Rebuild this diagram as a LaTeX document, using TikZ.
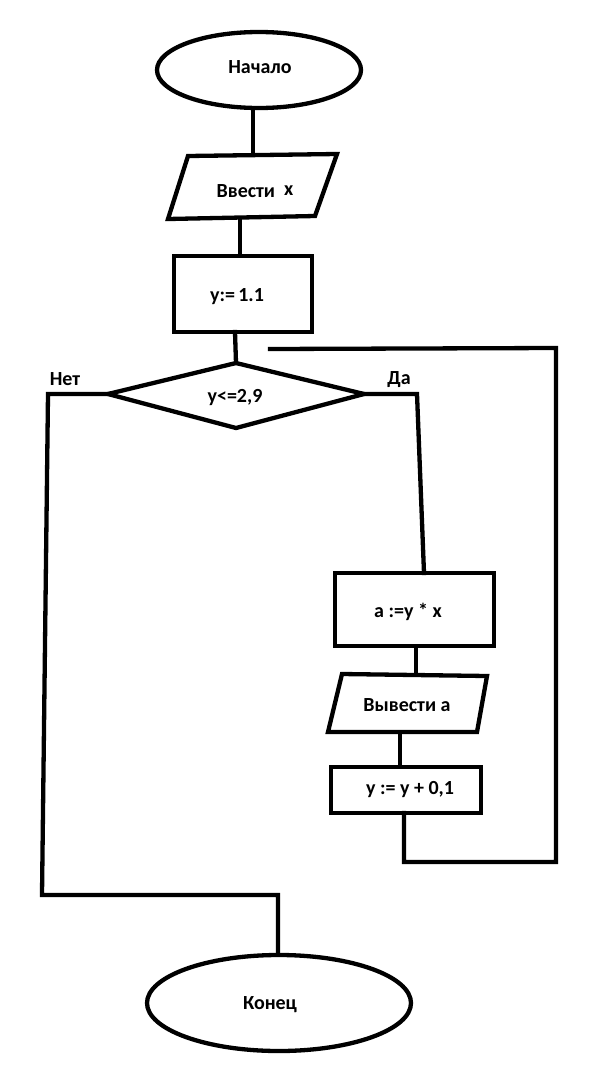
\documentclass[tikz,border=0pt]{standalone}
\usepackage{fontspec}
\setmainfont{Carlito}
\usetikzlibrary{shapes.geometric}
\begin{document}
\begin{tikzpicture}[x=1pt,y=-1pt,
  lw/.style={line width=4.3pt},
  shp/.style={draw=black,lw,line join=miter},
  conn/.style={draw=black,lw,line cap=rect,line join=miter},
  lbl/.style={font=\bfseries\fontsize{20}{24}\selectfont,inner sep=0pt},
  term/.style={ellipse,draw=black,lw,inner sep=0pt},
  proc/.style={rectangle,draw=black,lw,inner sep=0pt}]
\fill[white] (0,0) rectangle (592,1092);
\useasboundingbox (0,0) rectangle (592,1092);

% terminals
\node[term,minimum width=204pt,minimum height=76pt] (start) at (259,70) {};
\node[lbl] (tstart) at (260,67) {Начало};
\node[term,minimum width=264pt,minimum height=96pt] (finish) at (279,1003) {};
\node[lbl] (tfinish) at (270,1005) {Конец};

% input parallelogram
\coordinate (i1) at (188,156);
\coordinate (i2) at (337,154);
\coordinate (i3) at (315,216);
\coordinate (i4) at (168,219);
\draw[shp] (i1) -- (i2) -- (i3) -- (i4) -- cycle;
\node[lbl] (tinput) at (255,191) {Ввести\ \ \raisebox{2pt}{x}};

% init box
\node[proc,minimum width=138pt,minimum height=76pt] (init) at (243,294) {};
\node[lbl] (tinit) at (237,297) {y:=\,1.1};

% decision diamond
\coordinate (dt) at (236,363);
\coordinate (dl) at (108,394);
\coordinate (dr) at (364,394);
\coordinate (db) at (236,428);
\draw[shp] (dt) -- (dr) -- (db) -- (dl) -- cycle;
\node[lbl] (tcond) at (235,398) {y<=2,9};
\node[lbl] (tno) at (65,379) {Нет};
\node[lbl] (tyes) at (399,380) {Да};

% body
\node[proc,minimum width=159pt,minimum height=73pt] (mult) at (414.5,609.5) {};
\node[lbl] (tmult) at (408,612) {a :=y * x};

\coordinate (o1) at (342,674);
\coordinate (o2) at (487,676);
\coordinate (o3) at (477,732);
\coordinate (o4) at (328,732);
\draw[shp] (o1) -- (o2) -- (o3) -- (o4) -- cycle;
\node[lbl] (tout) at (407,705) {Вывести a};

\node[proc,minimum width=150pt,minimum height=46pt] (upd) at (406,790) {};
\node[lbl] (tupd) at (410,790) {y := y + 0,1};

% connectors
\coordinate (c1) at (253,155);
\draw[conn] (c1 |- start.south) -- (c1);
\coordinate (c2) at (240,218);
\draw[conn] (c2) -- (c2 |- init.north);
\coordinate (c3) at (235,332);
\draw[conn] (c3) -- (dt);

\coordinate (n1) at (48,394);
\coordinate (n2) at (42,895);
\coordinate (n3) at (278,895);
\draw[conn] (dl) -- (n1) -- (n2) -- (n3) -- (n3 |- finish.north);

\coordinate (y1) at (417,394);
\coordinate (y2) at (424,573);
\draw[conn] (dr) -- (y1) -- (y2);

\coordinate (m1) at (416,646);
\draw[conn] (m1) -- (m1 |- o1);
\coordinate (m2) at (400,732);
\draw[conn] (m2) -- (m2 |- upd.north);

\coordinate (l1) at (404,813);
\coordinate (l2) at (404,862);
\coordinate (l3) at (556,862);
\coordinate (l4) at (556,348);
\coordinate (l5) at (270,349);
\draw[conn] (l1) -- (l2) -- (l3) -- (l4) -- (l5);
\end{tikzpicture}
\end{document}
